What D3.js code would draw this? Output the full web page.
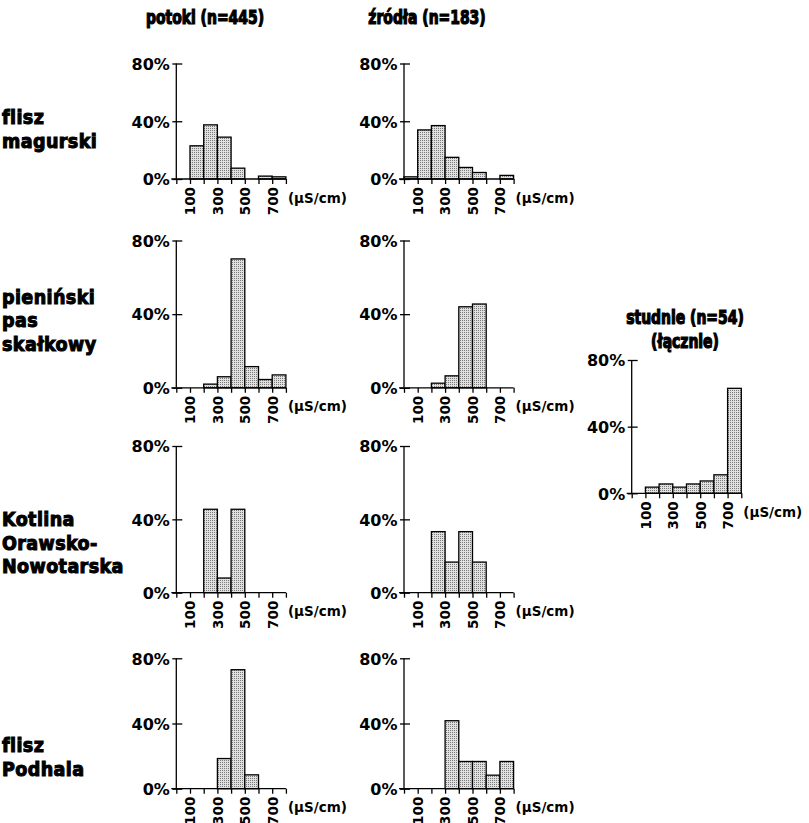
<!DOCTYPE html>
<html><head><meta charset="utf-8">
<script src="https://cdn.jsdelivr.net/npm/d3@7"></script>
<style>body{margin:0;background:#fff} svg{display:block}</style>
</head><body><svg id="c" width="809" height="823"></svg>
<script>
// ---- data ----
const binStarts = [0, 100, 200, 300, 400, 500, 600, 700];   // conductivity classes (µS/cm), width 100
const xTickValues = [0, 100, 200, 300, 400, 500, 600, 700, 800];
const xTickLabels = [100, 300, 500, 700];
const yTicks = [0, 40, 80];
const columnTitles = ["potoki (n=445)", "źródła (n=183)"];
const rowLabels = [["flisz", "magurski"], ["pieniński", "pas", "skałkowy"], ["Kotlina", "Orawsko-", "Nowotarska"], ["flisz", "Podhala"]];
const wellsTitle = ["studnie (n=54)", "(łącznie)"];
const unitLabel = "(µS/cm)";

const potokiMagurski   = [0, 23, 37.5, 29, 7.5, 0, 2, 1.5];
const zrodlaMagurski   = [1.5, 34, 37, 15, 8, 4.5, 0, 2.5];
const potokiPieninski  = [0, 0, 2, 6, 70, 11.5, 4.5, 7];
const zrodlaPieninski  = [0, 0, 2.5, 6.5, 44, 45.5, 0, 0];
const potokiKotlina    = [0, 0, 45.5, 8, 45.5, 0, 0, 0];
const zrodlaKotlina    = [0, 0, 33.3, 16.7, 33.3, 16.7, 0, 0];
const potokiPodhale    = [0, 0, 0, 18.5, 73, 8.5, 0, 0];
const zrodlaPodhale    = [0, 0, 0, 41.7, 16.7, 16.7, 8.3, 16.7];
const studnie          = [0, 3.7, 5.6, 3.7, 5.6, 7.4, 11.1, 63];

// ---- layout ----
const svg = d3.select("#c");
const heavy = "'DejaVu Sans Condensed','DejaVu Sans',sans-serif";
const plain = "'DejaVu Sans',sans-serif";

const defs = svg.append("defs");
const pat = defs.append("pattern").attr("id", "dots").attr("patternUnits", "userSpaceOnUse")
  .attr("width", 2).attr("height", 2);
pat.append("rect").attr("width", 2).attr("height", 2).attr("fill", "#e0e0e0");
pat.append("rect").attr("width", 1).attr("height", 1).attr("fill", "#7a7a7a");

const colX = [176.3, 404, 631.7];
const rows = [
  {y80: 63.5, y0: 179},
  {y80: 240.5, y0: 387.8},
  {y80: 446, y0: 592.7},
  {y80: 658.3, y0: 788.7}
];
const panels = [
  {v: potokiMagurski, c: 0, r: rows[0]}, {v: zrodlaMagurski, c: 1, r: rows[0]},
  {v: potokiPieninski, c: 0, r: rows[1]}, {v: zrodlaPieninski, c: 1, r: rows[1]},
  {v: potokiKotlina, c: 0, r: rows[2]}, {v: zrodlaKotlina, c: 1, r: rows[2]},
  {v: potokiPodhale, c: 0, r: rows[3]}, {v: zrodlaPodhale, c: 1, r: rows[3]},
  {v: studnie, c: 2, r: {y80: 360, y0: 493.3}}
];

function drawPanel(p) {
  const ax = colX[p.c], y0 = p.r.y0, y80 = p.r.y80;
  const x = d3.scaleLinear().domain([0, 800]).range([ax, ax + 109.6]);
  const y = d3.scaleLinear().domain([0, 80]).range([y0, y80]);
  const g = svg.append("g");
  const data = binStarts.map((b, i) => ({b, v: p.v[i]})).filter(d => d.v > 0);
  g.selectAll("rect.bar").data(data).join("rect").attr("class", "bar")
    .attr("x", d => x(d.b)).attr("width", d => x(d.b + 100) - x(d.b))
    .attr("y", d => y(d.v)).attr("height", d => y(0) - y(d.v))
    .attr("fill", "url(#dots)").attr("stroke", "#000").attr("stroke-width", 1.3);

  // y axis
  const ya = g.append("g").attr("transform", `translate(${ax},0)`)
    .call(d3.axisLeft(y).tickValues(yTicks).tickSize(4).tickFormat(d => d + "%"));
  ya.select(".domain").remove();
  ya.selectAll(".tick line").attr("x1", 6).attr("x2", -4).attr("stroke-width", 1.3);
  ya.selectAll(".tick text").attr("x", -6.5).attr("dy", "0.36em")
    .style("font-family", plain).style("font-weight", "bold").style("font-size", "16px").attr("fill", "#000");
  g.append("line").attr("x1", ax).attr("x2", ax).attr("y1", y(80)).attr("y2", y(0))
    .attr("stroke", "#000").attr("stroke-width", 1.3);

  // x axis
  const xa = g.append("g").attr("transform", `translate(0,${y0})`)
    .call(d3.axisBottom(x).tickValues(xTickValues).tickSize(5)
      .tickFormat(d => xTickLabels.includes(d) ? String(d) : ""));
  xa.select(".domain").remove();
  xa.selectAll(".tick line").attr("stroke-width", 1.3);
  xa.selectAll(".tick text").attr("transform", "translate(0,8) rotate(-90)")
    .attr("y", 0).attr("x", 0).attr("dy", "0.36em").attr("text-anchor", "end")
    .style("font-family", plain).style("font-weight", "bold").style("font-size", "13.5px").attr("fill", "#000");
  g.append("line").attr("x1", ax - 5).attr("x2", x(800)).attr("y1", y0).attr("y2", y0)
    .attr("stroke", "#000").attr("stroke-width", 1.3);

  g.append("text").attr("x", x(800) + 2).attr("y", y0 + 23.5).text(unitLabel)
    .style("font-family", plain).style("font-weight", "bold").style("font-size", "13.5px").attr("fill", "#000");
}
panels.forEach(drawPanel);

function heavyText(x, y, t, anchor, size, sy, ls) {
  svg.append("text").attr("transform", `translate(${x},${y}) scale(1,${sy})`).attr("text-anchor", anchor).text(t)
    .style("font-family", heavy).style("font-weight", "bold").style("font-stretch", "condensed")
    .style("letter-spacing", ls + "px")
    .style("font-size", size + "px").attr("fill", "#000").attr("stroke", "#000").attr("stroke-width", 1.0);
}
heavyText(205, 24, columnTitles[0], "middle", 15.5, 1.22, 0);
heavyText(427, 24, columnTitles[1], "middle", 15.5, 1.22, 0);
heavyText(685, 324, wellsTitle[0], "middle", 15.5, 1.22, 0);
heavyText(685, 347.5, wellsTitle[1], "middle", 15.5, 1.22, 0);

const rowBase = [[124, 148], [303.5, 327, 350.5], [526, 549.5, 573], [752, 776]];
rowLabels.forEach((lines, i) => lines.forEach((t, j) => heavyText(2, rowBase[i][j], t, "start", 19.5, 1.0, 0.4)));
</script></body></html>
